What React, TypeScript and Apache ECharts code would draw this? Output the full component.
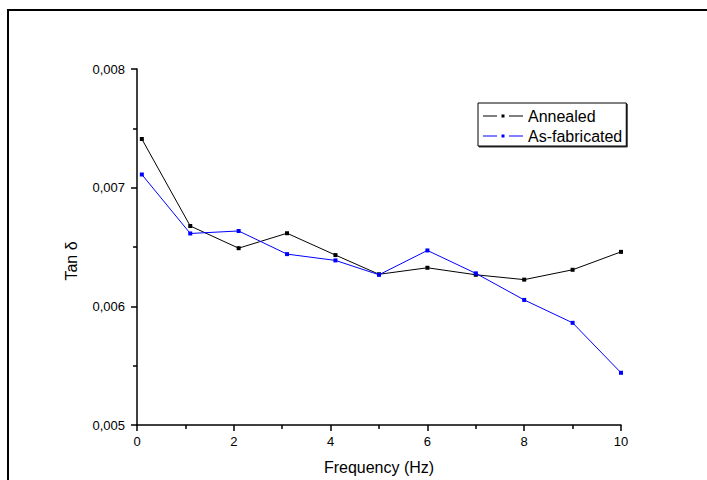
import React, { useEffect, useRef } from "react";
import * as echarts from "echarts";

const frequency = [0.1, 1.1, 2.1, 3.1, 4.1, 5, 6, 7, 8, 9, 10];
const annealed = [0.00741, 0.006677, 0.00649, 0.006616, 0.006432, 0.00627, 0.006325, 0.006266, 0.006225, 0.006308, 0.006459];
const asFabricated = [0.007111, 0.006614, 0.006635, 0.00644, 0.006387, 0.006266, 0.006471, 0.006278, 0.006054, 0.005861, 0.00544];
const seriesNames = ["Annealed", "As-fabricated"];
const seriesColors = ["#000000", "#0000ff"];
const xAxisTitle = "Frequency (Hz)";
const yAxisTitle = "Tan δ";

const FONT = "'Liberation Sans', Arial, sans-serif";
const legendIcon = "path://M0,1h14v1h-14z M18.5,0h3v3h-3z M26,1h14v1h-14z";

export default function App() {
  const ref = useRef<HTMLDivElement>(null);
  useEffect(() => {
    if (!ref.current) return;
    const chart = echarts.init(ref.current, undefined, { renderer: "svg" });
    const pairs = (ys: number[]) => frequency.map((x, i) => [x, ys[i]]);
    const mkSeries = (idx: number, ys: number[]) => ({
      name: seriesNames[idx],
      type: "line",
      data: pairs(ys),
      symbol: "rect",
      symbolSize: 4,
      showSymbol: true,
      lineStyle: { color: seriesColors[idx], width: 1 },
      itemStyle: { color: seriesColors[idx] },
      emphasis: { disabled: true },
    });
    chart.setOption({
      animation: false,
      backgroundColor: "#ffffff",
      textStyle: { fontFamily: FONT },
      grid: { left: 137, right: 86, top: 69, bottom: 53, containLabel: false },
      legend: {
        left: 478,
        top: 103,
        orient: "vertical",
        icon: legendIcon,
        itemWidth: 40,
        itemHeight: 3,
        itemGap: 4,
        padding: [5, 4, 2, 5],
        borderColor: "#000000",
        borderWidth: 1,
        backgroundColor: "#ffffff",
        shadowColor: "rgba(0,0,0,0.8)",
        shadowOffsetX: 1,
        shadowOffsetY: 1,
        shadowBlur: 0,
        textStyle: { fontFamily: FONT, fontSize: 16, color: "#000000" },
        selectedMode: false,
        data: seriesNames,
      },
      xAxis: {
        type: "value",
        min: 0,
        max: 10,
        interval: 2,
        name: xAxisTitle,
        nameLocation: "middle",
        nameGap: 34,
        nameTextStyle: { fontFamily: FONT, fontSize: 16, color: "#000000" },
        axisLine: { show: true, onZero: false, lineStyle: { color: "#000000", width: 1.5 } },
        axisTick: { show: true, inside: false, length: 6, lineStyle: { color: "#000000", width: 1.5 } },
        minorTick: { show: true, splitNumber: 2, length: 4, lineStyle: { color: "#000000", width: 1.5 } },
        axisLabel: { margin: 10, fontFamily: FONT, fontSize: 13, color: "#000000" },
        splitLine: { show: false },
      },
      yAxis: {
        type: "value",
        min: 0.005,
        max: 0.008,
        interval: 0.001,
        axisLine: { show: true, onZero: false, lineStyle: { color: "#000000", width: 1.5 } },
        axisTick: { show: true, inside: false, length: 6, lineStyle: { color: "#000000", width: 1.5 } },
        minorTick: { show: true, splitNumber: 2, length: 4, lineStyle: { color: "#000000", width: 1.5 } },
        axisLabel: {
          margin: 12,
          fontFamily: FONT,
          fontSize: 13,
          color: "#000000",
          formatter: (v: number) => v.toFixed(3).replace(".", ","),
        },
        splitLine: { show: false },
      },
      graphic: [
        {
          type: "line",
          shape: { x1: 7, y1: 10, x2: 707, y2: 10 },
          style: { stroke: "#000000", lineWidth: 2 },
        },
        {
          type: "line",
          shape: { x1: 8, y1: 9, x2: 8, y2: 480 },
          style: { stroke: "#000000", lineWidth: 2 },
        },
        {
          type: "text",
          x: 71.5,
          y: 261,
          rotation: Math.PI / 2,
          style: {
            text: yAxisTitle,
            fontFamily: FONT,
            fontSize: 16,
            fill: "#000000",
            textAlign: "center",
            textVerticalAlign: "middle",
          },
        },
      ],
      series: [mkSeries(0, annealed), mkSeries(1, asFabricated)],
    });
    return () => chart.dispose();
  }, []);
  return (
    <div
      ref={ref}
      style={{ position: "fixed", left: 0, top: 0, width: 707, height: 480, background: "#fff" }}
    />
  );
}
